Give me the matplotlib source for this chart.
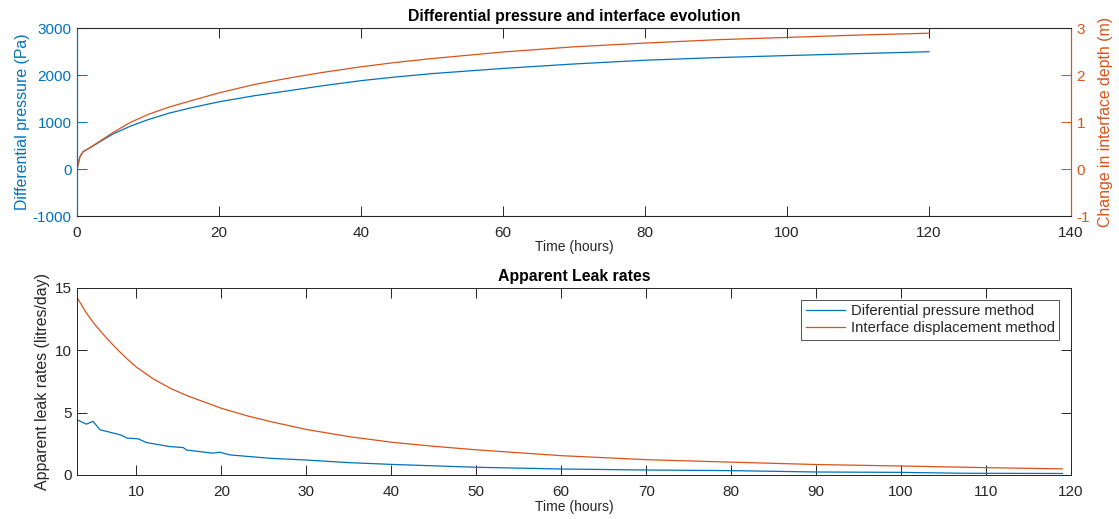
import numpy as np
import matplotlib
matplotlib.use("Agg")
import matplotlib.pyplot as plt

plt.rcParams["font.family"] = ["Liberation Sans", "DejaVu Sans"]
plt.rcParams["axes.unicode_minus"] = False

# top panel: differential pressure (Pa) and interface change (m)
t_top = [0, 0.4, 0.85, 1.8, 3, 5, 7.5, 10, 13, 16, 20, 25, 30, 35, 40, 45,
         50, 60, 70, 80, 90, 100, 110, 120]
dp_pa = [0, 260, 366, 450, 560, 740, 910, 1050, 1190, 1300, 1430, 1560,
         1670, 1780, 1880, 1960, 2030, 2140, 2235, 2315, 2370, 2414, 2455,
         2496]
depth_m = [0, 0.25, 0.37, 0.45, 0.57, 0.77, 0.99, 1.16, 1.32, 1.45, 1.62,
           1.80, 1.94, 2.065, 2.175, 2.27, 2.35, 2.49, 2.60, 2.68, 2.75,
           2.80, 2.85, 2.89]

# bottom panel: apparent leak rates (litres/day)
t_dp = [3, 4.1, 4.9, 5.7, 8.1, 8.9, 10.2, 11.2, 13.9, 15.5, 15.9, 19, 19.8,
        21, 25.7, 30, 35, 40, 50, 60, 70, 80, 90, 100, 107, 119]
rate_dp = [4.43, 4.08, 4.3, 3.63, 3.22, 2.96, 2.9, 2.6, 2.28, 2.2, 2.0, 1.75,
           1.83, 1.61, 1.34, 1.2, 0.99, 0.85, 0.62, 0.48, 0.40, 0.35, 0.24,
           0.21, 0.14, 0.12]
t_if = [3, 4, 5, 6, 7, 8, 9, 10, 12, 14, 16, 18, 20, 23, 26, 30, 35, 40, 45,
        50, 60, 70, 80, 90, 100, 110, 119]
rate_if = [14.25, 13.1, 12.15, 11.35, 10.6, 9.9, 9.25, 8.65, 7.7, 6.95, 6.35,
           5.85, 5.35, 4.75, 4.25, 3.65, 3.08, 2.63, 2.3, 2.02, 1.55, 1.23,
           1.03, 0.84, 0.72, 0.59, 0.49]

blue = "#0072BD"
orange = "#D95319"
gray = "#262626"
tick_fs = 11
lab_fs = 11.4
title_fs = 11.4

fig = plt.figure(figsize=(11.19, 5.19), dpi=100)

ax1 = fig.add_axes([0.0688, 0.5838, 0.8883, 0.3622])
ax2 = ax1.twinx()
ax1.plot(t_top, dp_pa, color=blue, lw=0.9)
ax2.plot(t_top, depth_m, color=orange, lw=0.9)
ax1.set_xlim(0, 140)
ax1.set_ylim(-1000, 3000)
ax2.set_ylim(-1, 3)
ax1.set_xticks(np.arange(0, 141, 20))
ax1.set_yticks(np.arange(-1000, 3001, 1000))
ax2.set_yticks(np.arange(-1, 4, 1))
ax1.set_title("Differential pressure and interface evolution",
              fontsize=title_fs, fontweight="bold", color="black", pad=5)
ax1.set_xlabel("Time (hours)", fontsize=10, color=gray, labelpad=0)
ax1.set_ylabel("Differential pressure (Pa)", fontsize=lab_fs, color=blue,
               labelpad=2)
ax2.set_ylabel("Change in interface depth (m)", fontsize=lab_fs,
               color=orange, labelpad=6)
ax1.tick_params(axis="x", direction="in", top=True, length=7, width=0.7,
                colors=gray, labelsize=tick_fs, pad=7)
ax1.tick_params(axis="y", direction="in", length=7, width=0.7, colors=blue,
                labelsize=tick_fs, pad=4)
ax2.tick_params(axis="y", direction="in", length=7, width=0.7, colors=orange,
                labelsize=tick_fs, pad=4)
for sp in ["top", "bottom"]:
    ax1.spines[sp].set_color(gray)
    ax2.spines[sp].set_color(gray)
    ax1.spines[sp].set_linewidth(0.7)
ax1.spines["left"].set_color(blue)
ax2.spines["left"].set_color(blue)
ax2.spines["right"].set_color(orange)
ax1.spines["right"].set_color(orange)

ax3 = fig.add_axes([0.0688, 0.0848, 0.8883, 0.3603])
ax3.plot(t_dp, rate_dp, color=blue, lw=0.9, label="Diferential pressure method")
ax3.plot(t_if, rate_if, color=orange, lw=0.9,
         label="Interface displacement method")
ax3.set_xlim(3, 120)
ax3.set_ylim(0, 15)
ax3.set_xticks(np.arange(10, 121, 10))
ax3.set_yticks(np.arange(0, 16, 5))
ax3.set_title("Apparent Leak rates", fontsize=title_fs, fontweight="bold",
              color="black", pad=5)
ax3.set_xlabel("Time (hours)", fontsize=10, color=gray, labelpad=1)
ax3.set_ylabel("Apparent leak rates (litres/day)", fontsize=lab_fs,
               color=gray, labelpad=3)
ax3.tick_params(direction="in", top=True, right=True, length=7, width=0.7,
                colors=gray, labelsize=tick_fs, pad=7)
ax3.tick_params(axis="y", pad=4)
for sp in ax3.spines.values():
    sp.set_color(gray)
    sp.set_linewidth(0.7)
leg = ax3.legend(loc="upper right", fontsize=10.75, frameon=True,
                 fancybox=False, borderaxespad=0.8, handlelength=2.6,
                 borderpad=0.3, labelspacing=0.2, handletextpad=0.4)
leg.get_frame().set_edgecolor(gray)
leg.get_frame().set_linewidth(0.7)
for txt in leg.get_texts():
    txt.set_color(gray)

fig.savefig("out.png", dpi=100)
